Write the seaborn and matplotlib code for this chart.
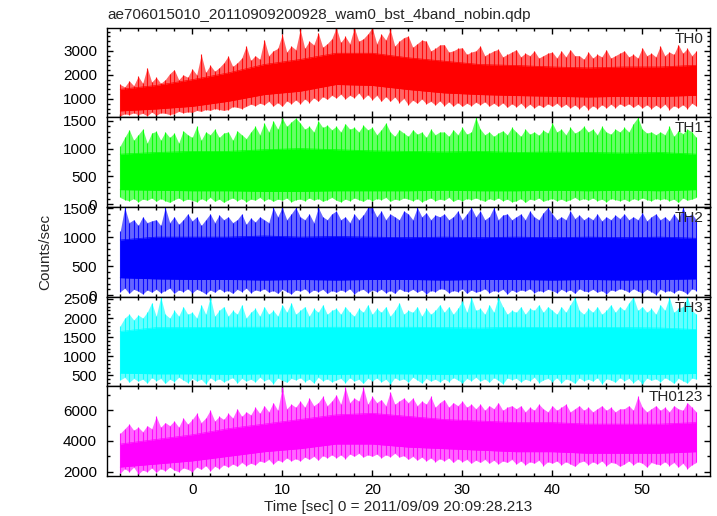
import matplotlib
matplotlib.use("Agg")
import matplotlib.pyplot as plt
from matplotlib.ticker import MultipleLocator
import seaborn as sns

# time grid of the light curve (0.5 s bins) and the 4 s nodes of the dense core
bin_sec = [k / 2 for k in range(-16, 113)]
core_sec = list(range(-8, 57, 4))

# TH0 (red)
th0_core_hi = [1400, 1560, 1800, 2080, 2430, 2640, 2900, 2900, 2710, 2570, 2430, 2390, 2330, 2290, 2330, 2330, 2400]
th0_core_lo = [500, 580, 690, 900, 1180, 1320, 1600, 1560, 1390, 1250, 1180, 1140, 1110, 1080, 1110, 1100, 1150]
th0_max = [1600, 1500, 1750, 1550, 1940, 1650, 2300, 1700,
           1900, 1650, 1800, 2050, 2220, 1800, 2000, 1900,
           2250, 2000, 2850, 2100, 2400, 2150, 2300, 2500,
           2780, 2350, 2500, 2700, 3200, 2600, 2800, 2650,
           3470, 2800, 3000, 3100, 3680, 2950, 3200, 3050,
           3890, 3100, 3400, 3250, 3750, 3150, 3300, 3500,
           3960, 3350, 3600, 3300, 3960, 3400, 3500, 3700,
           3960, 3300, 3700, 3450, 3890, 3200, 3400, 3550,
           3610, 3150, 3300, 3450, 3400, 3000, 3100, 3250,
           3260, 2950, 3000, 3100, 3130, 2850, 2950, 3000,
           3200, 2800, 2900, 3000, 3060, 2750, 2850, 2950,
           3050, 2750, 2900, 2800, 3000, 2700, 2800, 2900,
           2950, 2700, 3000, 2750, 3050, 2800, 2800, 2650,
           2950, 2700, 2850, 2750, 3050, 2700, 2800, 2900,
           3000, 2750, 2850, 2700, 3130, 2800, 2900, 2750,
           3200, 2800, 2950, 2850, 3260, 2900, 3100, 2800,
           3000]
th0_min = [300, 380, 350, 420, 350, 400, 300, 450,
           330, 420, 400, 350, 390, 480, 420, 460,
           440, 520, 480, 560, 520, 600, 560, 520,
           560, 680, 650, 600, 690, 780, 720, 820,
           760, 900, 700, 850, 690, 920, 800, 960,
           800, 1000, 850, 1050, 900, 1100, 980, 1150,
           1040, 1200, 1000, 1150, 1050, 1250, 1000, 1180,
           970, 1150, 900, 1100, 900, 1080, 850, 1020,
           760, 950, 820, 1000, 800, 900, 750, 920,
           720, 880, 700, 850, 690, 820, 720, 860,
           760, 880, 700, 820, 690, 840, 650, 800,
           670, 820, 640, 780, 625, 760, 650, 800,
           690, 820, 660, 780, 625, 750, 600, 760,
           560, 720, 600, 760, 625, 780, 640, 800,
           690, 800, 650, 780, 625, 760, 600, 740,
           625, 780, 560, 720, 625, 760, 600, 820,
           700]

# TH1 (green)
th1_core_hi = [900, 930, 950, 950, 980, 1000, 980, 960, 950, 940, 950, 930, 940, 930, 920, 930, 900]
th1_core_lo = [260, 250, 240, 240, 230, 230, 240, 240, 240, 250, 240, 240, 250, 240, 250, 240, 260]
th1_max = [1050, 1200, 1340, 1150, 1250, 1350, 1100, 1280,
           1310, 1150, 1300, 1200, 1280, 1100, 1320, 1250,
           1200, 1400, 1150, 1300, 1250, 1350, 1200, 1280,
           1300, 1150, 1320, 1250, 1180, 1300, 1400, 1250,
           1460, 1300, 1500, 1350, 1550, 1400, 1480, 1550,
           1460, 1350, 1400, 1300, 1500, 1380, 1420, 1340,
           1400, 1300, 1450, 1350, 1380, 1300, 1420, 1340,
           1380, 1250, 1340, 1460, 1300, 1220, 1340, 1280,
           1220, 1340, 1260, 1300, 1200, 1350, 1250, 1300,
           1300, 1220, 1340, 1250, 1380, 1260, 1300, 1560,
           1350, 1250, 1300, 1220, 1280, 1320, 1250, 1380,
           1300, 1220, 1350, 1260, 1300, 1240, 1330, 1280,
           1460, 1300, 1350, 1250, 1380, 1280, 1320, 1400,
           1300, 1350, 1250, 1400, 1300, 1260, 1350, 1300,
           1380, 1300, 1450, 1560, 1350, 1280, 1300, 1250,
           1300, 1250, 1400, 1220, 1320, 1270, 1350, 1300,
           1200]
th1_min = [120, 80, 60, 100, 40, 90, 70, 110,
           50, 100, 60, 30, 80, 110, 60, 90,
           70, 40, 100, 60, 120, 50, 90, 30,
           80, 110, 60, 100, 40, 90, 70, 120,
           60, 100, 50, 90, 70, 110, 40, 80,
           90, 60, 110, 70, 100, 50, 80, 120,
           70, 40, 90, 60, 110, 80, 50, 100,
           60, 100, 80, 120, 50, 90, 70, 110,
           90, 60, 100, 40, 80, 110, 60, 90,
           70, 120, 50, 90, 60, 100, 80, 110,
           80, 50, 100, 70, 110, 60, 90, 40,
           60, 100, 30, 90, 70, 110, 50, 80,
           100, 60, 90, 50, 80, 120, 70, 100,
           70, 110, 60, 90, 40, 100, 80, 60,
           90, 50, 100, 70, 110, 80, 60, 100,
           80, 100, 60, 90, 30, 110, 70, 90,
           120]

# TH2 (blue)
th2_core_hi = [950, 1000, 1000, 1000, 1020, 1000, 1010, 1000, 990, 1000, 990, 1000, 990, 1000, 990, 1000, 980]
th2_core_lo = [300, 280, 270, 270, 260, 270, 260, 270, 270, 260, 270, 270, 260, 270, 260, 270, 280]
th2_max = [1100, 1510, 1250, 1300, 1200, 1350, 1250, 1280,
           1300, 1200, 1510, 1250, 1350, 1220, 1300, 1400,
           1280, 1350, 1200, 1300, 1400, 1250, 1380, 1300,
           1350, 1250, 1300, 1400, 1220, 1330, 1260, 1350,
           1300, 1250, 1510, 1350, 1510, 1300, 1400, 1510,
           1350, 1300, 1400, 1250, 1510, 1350, 1300, 1400,
           1450, 1300, 1350, 1250, 1400, 1300, 1380, 1510,
           1510, 1350, 1450, 1300, 1400, 1350, 1300, 1450,
           1400, 1300, 1510, 1350, 1420, 1300, 1380, 1350,
           1400, 1300, 1350, 1450, 1300, 1400, 1510, 1350,
           1450, 1300, 1350, 1510, 1300, 1380, 1400, 1300,
           1350, 1400, 1300, 1450, 1350, 1300, 1420, 1510,
           1400, 1300, 1350, 1300, 1450, 1320, 1380, 1300,
           1350, 1300, 1400, 1280, 1350, 1300, 1380, 1320,
           1400, 1300, 1350, 1300, 1420, 1280, 1350, 1400,
           1300, 1350, 1280, 1400, 1300, 1510, 1350, 1400,
           1300]
th2_min = [60, 120, 30, 100, 70, 20, 90, 50,
           100, 40, 80, 120, 30, 90, 60, 110,
           40, 100, 70, 20, 90, 50, 110, 60,
           80, 30, 100, 60, 120, 40, 90, 70,
           110, 50, 80, 30, 100, 60, 20, 90,
           70, 110, 40, 90, 60, 100, 30, 80,
           50, 90, 60, 110, 20, 80, 100, 40,
           90, 60, 100, 40, 80, 30, 110, 70,
           60, 100, 50, 90, 20, 80, 60, 110,
           100, 40, 80, 60, 110, 30, 90, 50,
           70, 110, 40, 80, 60, 100, 20, 90,
           50, 90, 70, 110, 40, 80, 60, 100,
           80, 40, 100, 60, 90, 30, 110, 70,
           60, 100, 50, 80, 20, 90, 70, 110,
           90, 50, 110, 70, 40, 100, 60, 10,
           100, 60, 80, 40, 90, 70, 20, 110,
           80]

# TH3 (cyan)
th3_core_hi = [1650, 1750, 1750, 1760, 1760, 1750, 1760, 1750, 1760, 1750, 1740, 1760, 1750, 1760, 1750, 1740, 1700]
th3_core_lo = [560, 540, 540, 530, 540, 540, 530, 540, 540, 530, 540, 540, 530, 540, 540, 530, 550]
th3_max = [1800, 2000, 2100, 1950, 2080, 2000, 2150, 2400,
           2050, 2550, 2100, 2000, 2200, 2050, 2300, 2100,
           2150, 2000, 2350, 2100, 2550, 2050, 2200, 2300,
           2050, 2200, 2100, 2350, 2000, 2150, 2250, 2050,
           2300, 2100, 2200, 2050, 2350, 2150, 2400, 2100,
           2200, 2300, 2050, 2250, 2150, 2350, 2100, 2200,
           2250, 2100, 2300, 2150, 2050, 2250, 2150, 2350,
           2100, 2250, 2150, 2300, 2050, 2200, 2400, 2100,
           2200, 2150, 2300, 2050, 2250, 2100, 2200, 2350,
           2150, 2300, 2100, 2250, 2450, 2150, 2550, 2200,
           2250, 2100, 2350, 2150, 2550, 2300, 2100, 2200,
           2150, 2300, 2100, 2250, 2200, 2350, 2150, 2300,
           2200, 2100, 2300, 2150, 2350, 2550, 2200, 2100,
           2250, 2150, 2300, 2100, 2200, 2350, 2150, 2300,
           2200, 2400, 2550, 2200, 2300, 2150, 2250, 2100,
           2350, 2200, 2550, 2150, 2250, 2300, 2550, 2200,
           2100]
th3_min = [380, 450, 320, 420, 350, 400, 300, 440,
           360, 420, 290, 400, 340, 450, 380, 310,
           420, 350, 400, 280, 440, 360, 410, 330,
           390, 440, 300, 420, 350, 400, 330, 450,
           360, 410, 280, 430, 370, 320, 420, 380,
           440, 340, 400, 300, 450, 360, 410, 330,
           380, 420, 310, 440, 350, 400, 290, 420,
           360, 430, 330, 400, 280, 440, 370, 410,
           320, 450, 380, 300, 420, 350, 400, 330,
           410, 340, 440, 380, 300, 420, 360, 450,
           350, 410, 320, 440, 370, 280, 430, 390,
           420, 330, 400, 360, 450, 310, 380, 420,
           340, 440, 300, 410, 370, 290, 430, 360,
           400, 350, 440, 280, 410, 380, 320, 440,
           360, 420, 310, 400, 280, 430, 370, 410,
           330, 440, 380, 290, 420, 360, 300, 430,
           400]

# TH0123 (magenta)
th0123_core_hi = [3800, 4100, 4400, 4800, 5100, 5400, 5700, 5800, 5600, 5400, 5300, 5200, 5200, 5100, 5100, 5100, 5200]
th0123_core_lo = [2300, 2500, 2700, 3000, 3300, 3500, 3800, 3800, 3600, 3500, 3400, 3300, 3300, 3200, 3200, 3200, 3300]
th0123_max = [4500, 4800, 5100, 4700, 4900, 4600, 5000, 4800,
              5600, 4900, 5200, 5000, 5300, 4900, 5500, 5100,
              5400, 5800, 5200, 5500, 6000, 5300, 5600, 5400,
              5800, 5500, 6100, 5600, 5900, 5700, 6200, 5800,
              6300, 5900, 6500, 6000, 7500, 6100, 6400, 6200,
              6600, 6200, 6800, 6300, 6500, 6900, 6300, 6600,
              7000, 6400, 7500, 6500, 6800, 6600, 7500, 6400,
              6900, 6500, 6700, 6300, 7200, 6400, 6600, 6800,
              6500, 6800, 6300, 6600, 6400, 6900, 6200, 6500,
              6700, 6200, 6500, 6300, 6600, 6200, 6400, 6100,
              6400, 6000, 6300, 6100, 6500, 6000, 6200, 6300,
              6100, 6300, 5900, 6200, 6000, 6400, 6100, 5900,
              6300, 6000, 6200, 6400, 5900, 6100, 6300, 6000,
              6200, 5900, 6100, 6300, 6000, 6200, 5900, 6100,
              6100, 6300, 6000, 6900, 6200, 5900, 6100, 6300,
              6000, 6200, 5900, 6300, 6100, 6000, 6500, 6200,
              5900]
th0123_min = [1900, 2200, 2000, 2300, 1850, 2100, 2000, 2250,
              1950, 2200, 2050, 2300, 2100, 2000, 2250, 2150,
              2000, 2300, 2150, 2400, 2050, 2350, 2200, 2450,
              2300, 2500, 2350, 2600, 2400, 2550, 2450, 2700,
              2600, 2800, 2500, 2750, 2650, 2900, 2700, 2850,
              2700, 2950, 2800, 3000, 2750, 3050, 2900, 3100,
              2900, 3100, 2850, 3150, 3000, 3200, 2950, 3100,
              3000, 3150, 2900, 3100, 2970, 3200, 2950, 3050,
              2800, 3000, 2750, 2950, 2700, 2900, 2650, 2850,
              2700, 2900, 2600, 2850, 2650, 2800, 2550, 2750,
              2600, 2800, 2550, 2750, 2500, 2700, 2600, 2800,
              2500, 2700, 2450, 2650, 2550, 2750, 2400, 2650,
              2550, 2700, 2450, 2650, 2500, 2350, 2600, 2700,
              2450, 2650, 2500, 2700, 2400, 2600, 2550, 2350,
              2500, 2700, 2450, 2650, 2550, 2300, 2600, 2500,
              2450, 2650, 2400, 2600, 2300, 2550, 2200, 2450,
              2600]

panels = [
    ("TH0", "#ff0000", th0_core_hi, th0_core_lo, th0_max, th0_min, (240, 3970), 1000, 200),
    ("TH1", "#00ff00", th1_core_hi, th1_core_lo, th1_max, th1_min, (-50, 1565), 500, 100),
    ("TH2", "#0000ff", th2_core_hi, th2_core_lo, th2_max, th2_min, (-25, 1520), 500, 100),
    ("TH3", "#00ffff", th3_core_hi, th3_core_lo, th3_max, th3_min, (215, 2560), 500, 100),
    ("TH0123", "#ff00ff", th0123_core_hi, th0123_core_lo, th0123_max, th0123_min, (1720, 7560), 2000, 1000),
]

sns.set_style("ticks")
plt.rcParams["font.family"] = ["Liberation Sans", "DejaVu Sans"]
plt.rcParams["font.size"] = 11

fig, axes = plt.subplots(5, 1, figsize=(7.17, 5.16), dpi=100, sharex=True)
fig.subplots_adjust(left=0.1488, right=0.990, top=0.9467, bottom=0.0775, hspace=0)

for ax, (name, color, c_hi, c_lo, v_max, v_min, ylim, major, minor) in zip(axes, panels):
    # haze of the noisy envelope, solid core, then the individual spikes
    ax.fill_between(bin_sec, v_min, v_max, color=color, alpha=0.6, lw=0)
    ax.fill_between(core_sec, c_lo, c_hi, color=color, lw=0)
    sns.lineplot(x=core_sec, y=c_hi, ax=ax, color=color, lw=0.5)
    sns.lineplot(x=core_sec, y=c_lo, ax=ax, color=color, lw=0.5)
    ax.vlines(bin_sec, v_min, v_max, color=color, lw=0.8, alpha=0.9)
    ax.set_xlim(-9.5, 57.5)
    ax.set_ylim(*ylim)
    ax.yaxis.set_major_locator(MultipleLocator(major))
    ax.yaxis.set_minor_locator(MultipleLocator(minor))
    ax.xaxis.set_major_locator(MultipleLocator(10))
    ax.xaxis.set_minor_locator(MultipleLocator(2))
    ax.tick_params(which="both", direction="in", top=True, right=True, color="black",
                   width=1.0, labelsize=11, labelcolor="black")
    ax.tick_params(which="major", length=4.5)
    ax.tick_params(which="minor", length=2.4)
    ax.tick_params(axis="y", pad=7)
    ax.tick_params(axis="x", pad=5)
    for sp in ax.spines.values():
        sp.set_color("black")
        sp.set_linewidth(1.0)
    ax.set_xlabel("")
    ax.set_ylabel("")
    ax.text(0.989, 0.955, name, transform=ax.transAxes, ha="right", va="top", fontsize=11)

fig.text(107 / 717, 1 - 15 / 516, "ae706015010_20110909200928_wam0_bst_4band_nobin.qdp",
         ha="left", va="center", fontsize=11)
fig.text(398 / 717, 1 - 507 / 516, "Time [sec] 0 = 2011/09/09 20:09:28.213",
         ha="center", va="center", fontsize=11)
fig.text(45 / 717, 1 - 252 / 516, "Counts/sec", rotation=90, ha="center", va="center", fontsize=11)

fig.savefig("out.png", dpi=100)
